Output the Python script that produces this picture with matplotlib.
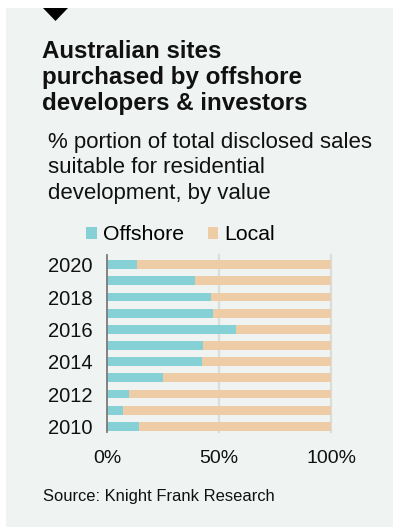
import matplotlib
matplotlib.use("Agg")
import matplotlib.pyplot as plt
from matplotlib.patches import Rectangle, Polygon

# datos: porcentaje de ventas (por valor) compradas por extranjeros
anios = [2010, 2011, 2012, 2013, 2014, 2015, 2016, 2017, 2018, 2019, 2020]
offshore = [14.5, 7.3, 9.9, 25.1, 42.2, 43.0, 57.4, 47.5, 46.6, 39.5, 13.6]
local = [100 - v for v in offshore]
ticks_anios = [2010, 2012, 2014, 2016, 2018, 2020]
ticks_x = [0, 50, 100]

COLOR_OFF = "#86d1d6"
COLOR_LOC = "#edcca6"
FONDO = "#eff3f2"
FUENTE = "Liberation Sans"

W, H = 393, 531


def fx(x):
    return x / W


def fy(y):
    return 1 - y / H


fig = plt.figure(figsize=(W / 100, H / 100), dpi=100)
fig.patch.set_facecolor("white")

# panel gris de fondo y triangulo superior
fig.patches.append(Rectangle((fx(6), fy(527)), fx(W - 6), (527 - 8) / H,
                             transform=fig.transFigure, facecolor=FONDO,
                             edgecolor="none", zorder=-10))
fig.patches.append(Polygon([(fx(43), fy(8)), (fx(68), fy(8)), (fx(55.5), fy(21))],
                           closed=True, transform=fig.transFigure,
                           facecolor="black", edgecolor="none", zorder=-5))

fig.text(fx(42), fy(40), "Australian sites\npurchased by offshore\ndevelopers & investors",
         fontsize=17.4, fontweight="bold", family=FUENTE, va="top", ha="left",
         linespacing=1.17, color="#111111")
fig.text(fx(48), fy(132), "% portion of total disclosed sales\nsuitable for residential\ndevelopment, by value",
         fontsize=16, family=FUENTE, va="top", ha="left", linespacing=1.27,
         color="#111111")

ax = fig.add_axes([fx(107), fy(432), fx(331 - 107), (432 - 255) / H])
ax.set_facecolor("none")

ax.barh(anios, offshore, height=0.55, color=COLOR_OFF, label="Offshore", zorder=2)
ax.barh(anios, local, left=offshore, height=0.55, color=COLOR_LOC, label="Local", zorder=2)

for v in [50, 100]:
    ax.axvline(v, color="#d9dddc", lw=1.6, zorder=1, clip_on=False)

ax.set_xlim(0, 100)
ax.set_ylim(2009.65, 2020.6)
ax.set_yticks(ticks_anios)
ax.set_yticklabels([str(a) for a in ticks_anios], family=FUENTE, fontsize=14.5, color="#111111")
ax.set_xticks(ticks_x)
ax.set_xticklabels([f"{t}%" for t in ticks_x], family=FUENTE, fontsize=14, color="#111111")
ax.tick_params(axis="both", length=0)
ax.tick_params(axis="y", pad=10.5)
ax.tick_params(axis="x", pad=13)

for lado in ["top", "right", "bottom"]:
    ax.spines[lado].set_visible(False)
ax.spines["left"].set_color("#7a7a7a")
ax.spines["left"].set_linewidth(1.3)
ax.spines["left"].set_zorder(3)

fig.legend(loc="center left", bbox_to_anchor=(fx(86), fy(235)), ncol=2,
           frameon=False, handlelength=0.5, handleheight=0.5, handletextpad=0.3,
           columnspacing=1.1, borderaxespad=0, borderpad=0,
           prop={"family": FUENTE, "size": 15.3})

fig.text(fx(43), fy(497), "Source: Knight Frank Research", fontsize=11.9,
         family=FUENTE, va="center", ha="left", color="#111111")

fig.savefig("out.png", dpi=100, facecolor=fig.get_facecolor())
